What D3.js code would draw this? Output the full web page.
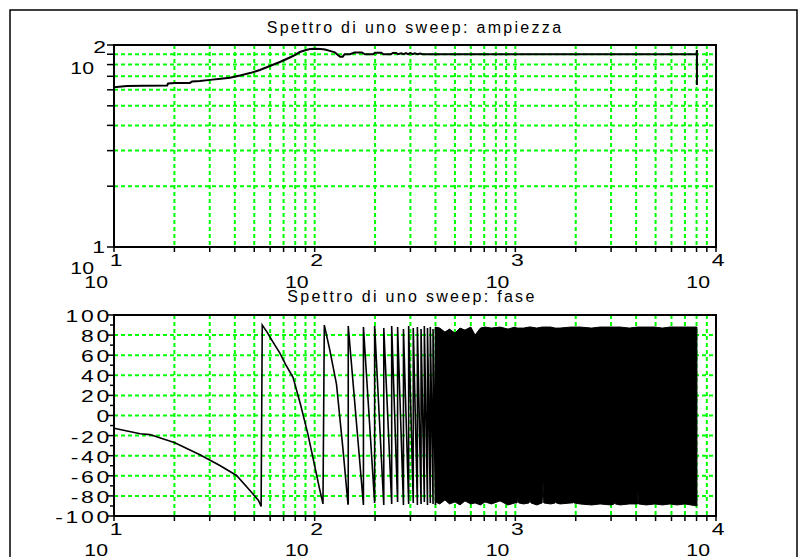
<!DOCTYPE html>
<html>
<head>
<meta charset="utf-8">
<script src="https://cdn.jsdelivr.net/npm/d3@7"></script>
<style>
body { margin: 0; background: #fff; }
text { font-family: "Liberation Sans", Arial, sans-serif; fill: #000; }
</style>
</head>
<body>
<div id="chart"></div>
<script>
// ---- data ----
// top panel: amplitude of the sweep spectrum (log-log)
var ampFreq = [10, 11.6, 14, 18.4, 18.6, 20.1, 23.9, 24.5, 26.8, 30.1, 34, 37.8, 42, 47.6, 53.3, 59.8, 67.1, 72, 78,
               84.4, 90.6, 95, 100.5, 107, 112.6, 119, 126, 131, 134, 138, 141, 150, 158, 172, 178, 195, 200, 215,
               220, 240, 245, 255, 260, 270, 278, 285, 292, 300, 308, 316, 325, 335, 345, 400, 8010, 8035, 8035];
var ampVal  = [61.7, 62.7, 62.8, 63.0, 64.5, 64.9, 64.9, 66, 66.4, 67.2, 68, 68.9, 70.5, 72.6, 75.2, 78.7, 82.4, 85, 88.2,
               92.3, 94.4, 95.5, 95.8, 95.6, 95, 93.5, 92, 89, 87.5, 87.5, 90, 90, 91.8, 91.8, 90, 90, 91.5, 91.5,
               90, 90, 91.3, 91.3, 90, 91, 90, 91.2, 90, 91.2, 90, 91, 90, 90.8, 90, 90, 90, 94.5, 63.4];

// bottom panel: phase, smooth start and first two teeth
var phaseFreq = [10, 13.5, 15.1, 20.1, 26.8, 33.7, 40.8, 47.6, 52.5, 54.1, 54.8,
                 57.9, 62, 67.1, 72, 78, 85, 92.4, 100, 105, 110, 111.7,
                 119, 128.5, 138.6, 146.5];
var phaseVal  = [-12.6, -18.2, -19, -27.2, -39, -49.8, -59.7, -74.6, -84.6, -90.5, 90,
                 83, 73, 62, 50, 38, 11, -18, -50, -70, -88, 90,
                 65, 31, -35, -88];
// later teeth: frequency of each wrap, with the top and bottom reached
var wrapFreq   = [147, 175, 199, 221, 242, 259, 277, 294, 310, 325, 339, 352, 365, 377, 389, 400];
var wrapTop    = [89, 88, 89, 87, 89, 88, 86, 89, 87, 88, 86, 89, 87, 88, 86, 88];
var wrapBottom = [-88, -89, -87, -89, -88, -86, -89, -88, -87, -89, -88, -86, -89, -87, -88, -89];
// dense part: envelope of the oscillation
var bandFreq   = [400, 420, 446, 470, 500, 530, 561, 600, 630, 670, 706, 760, 839, 920, 996, 1020, 1030, 1040, 1100,
                  1170, 1183, 1196, 1280, 1360, 1373, 1386, 1500, 1580, 1590, 1600, 1670, 1900, 1940, 1950, 1960,
                  2100, 2400, 2644, 3000, 3110, 3130, 3150, 3324, 3700, 4060, 4085, 4110, 4500, 4966, 5400, 5900,
                  6400, 7000, 7500, 8035];
var bandTop    = [88, 87, 83, 86, 82, 87, 85, 88, 80, 87, 88, 87, 88, 86, 88, 87, 87, 87, 87,
                  88, 88, 88, 87, 88, 88, 88, 88, 87, 87, 87, 87, 88, 88, 88, 88,
                  88, 87, 88, 88, 88, 88, 88, 88, 87, 88, 88, 88, 88, 88, 87, 88,
                  88, 88, 88, 88];
var bandBottom = [-86, -88, -84, -88, -86, -89, -85, -88, -87, -89, -86, -88, -85, -89, -87, -87, -82, -87, -88,
                  -87, -83, -87, -89, -87, -65, -87, -88, -87, -84, -87, -88, -87, -87, -85, -87,
                  -88, -89, -88, -89, -88, -84, -88, -89, -88, -88, -76, -88, -89, -88, -89, -88,
                  -89, -88, -89, -90];

var xDecades = [1, 2, 3, 4];
var phaseTicks = [-100, -80, -60, -40, -20, 0, 20, 40, 60, 80, 100];

// ---- layout ----
var W = 807, H = 557;
var left = 114, right = 716;
var topPanel = {y0: 45, y1: 247};
var botPanel = {y0: 315, y1: 516};

var svg = d3.select("#chart").append("svg")
    .attr("width", W)
    .attr("height", H);

// outer frame
svg.append("rect")
    .attr("x", 10).attr("y", 10)
    .attr("width", 787).attr("height", 560)
    .attr("fill", "none").attr("stroke", "#000").attr("stroke-width", 1.5);

var x = d3.scaleLog().domain([10, 10000]).range([left, right]);
var yAmp = d3.scaleLog().domain([10, 100]).range([topPanel.y1, topPanel.y0]);
var yPh = d3.scaleLinear().domain([-100, 100]).range([botPanel.y1, botPanel.y0]);

// minor log positions 2..9 in each decade, plus the decades
var xMinor = [];
[10, 100, 1000].forEach(function(d) {
  for (var k = 2; k <= 9; k++) xMinor.push(k * d);
});
var xAll = xMinor.concat([10, 100, 1000, 10000]);
var yAmpTicks = [];
for (var k = 1; k <= 10; k++) yAmpTicks.push(k * 10);

var green = "#00ff00";
var dash = "4,3";

// stretched tick label, as the original renderer draws them
function label(g, txt, px, py, anchor, spacing, sx) {
  g.append("text")
    .attr("transform", "translate(" + px + "," + py + ") scale(" + (sx || 1.35) + ",1)")
    .attr("text-anchor", anchor)
    .attr("dy", "0.35em")
    .style("font-size", "17px")
    .style("letter-spacing", spacing + "px")
    .text(txt);
}

function drawXAxis(g, y0, y1, yExp, yBase) {
  // vertical grid
  g.selectAll(".vgrid").data(xMinor.concat([100, 1000])).enter().append("line")
    .attr("x1", function(d) { return x(d); }).attr("x2", function(d) { return x(d); })
    .attr("y1", y0).attr("y2", y1)
    .attr("stroke", green).attr("stroke-width", 2).attr("stroke-dasharray", dash);
  // ticks
  g.selectAll(".xtick").data(xAll).enter().append("line")
    .attr("x1", function(d) { return x(d); }).attr("x2", function(d) { return x(d); })
    .attr("y1", y1).attr("y2", y1 + 5)
    .attr("stroke", "#000").attr("stroke-width", 1.5);
  // labels 10^n
  xDecades.forEach(function(e) {
    var px = x(Math.pow(10, e));
    label(g, String(e), px + 2, yExp, "middle", 0);
    label(g, "10", px - 6, yBase, "end", 0, 1.25);
  });
}

function frame(g, y0, y1) {
  g.append("rect")
    .attr("x", left).attr("y", y0)
    .attr("width", right - left).attr("height", y1 - y0)
    .attr("fill", "none").attr("stroke", "#000").attr("stroke-width", 2);
}

// ---- top panel: amplitude ----
var gA = svg.append("g");
gA.append("text")
    .attr("x", (left + right) / 2).attr("y", 33)
    .attr("text-anchor", "middle")
    .style("font-size", "16px").style("letter-spacing", "2.3px")
    .text("Spettro di uno sweep: ampiezza");

gA.selectAll(".hgrid").data(yAmpTicks.slice(1, 9)).enter().append("line")
    .attr("x1", left).attr("x2", right)
    .attr("y1", function(d) { return yAmp(d); }).attr("y2", function(d) { return yAmp(d); })
    .attr("stroke", green).attr("stroke-width", 2).attr("stroke-dasharray", dash);
drawXAxis(gA, topPanel.y0, topPanel.y1, 260, 282);

gA.selectAll(".ytick").data(yAmpTicks).enter().append("line")
    .attr("x1", left - 7).attr("x2", left)
    .attr("y1", function(d) { return yAmp(d); }).attr("y2", function(d) { return yAmp(d); })
    .attr("stroke", "#000").attr("stroke-width", 1.5);
label(gA, "2", 106, yAmp(100) + 2, "end", 0);
label(gA, "10", 94, yAmp(100) + 23, "end", 0, 1.25);
label(gA, "1", 105, yAmp(10), "end", 0);
label(gA, "10", 94, yAmp(10) + 21, "end", 0, 1.25);

var ampLine = d3.line()
    .x(function(d) { return x(d[0]); })
    .y(function(d) { return yAmp(d[1]); });
gA.append("path")
    .datum(d3.zip(ampFreq, ampVal))
    .attr("d", ampLine)
    .attr("fill", "none").attr("stroke", "#000").attr("stroke-width", 2);
frame(gA, topPanel.y0, topPanel.y1);

// ---- bottom panel: phase ----
var gP = svg.append("g");
gP.append("text")
    .attr("x", (left + right) / 2 - 3).attr("y", 302)
    .attr("text-anchor", "middle")
    .style("font-size", "16px").style("letter-spacing", "2.3px")
    .text("Spettro di uno sweep: fase");

gP.selectAll(".hgrid").data(phaseTicks.slice(1, -1)).enter().append("line")
    .attr("x1", left).attr("x2", right)
    .attr("y1", function(d) { return yPh(d); }).attr("y2", function(d) { return yPh(d); })
    .attr("stroke", green).attr("stroke-width", 2).attr("stroke-dasharray", dash);
drawXAxis(gP, botPanel.y0, botPanel.y1, 529, 550);

var phMinor = d3.range(-100, 101, 10);
gP.selectAll(".ytick").data(phMinor).enter().append("line")
    .attr("x1", function(d) { return d % 20 === 0 ? left - 7 : left - 4; }).attr("x2", left)
    .attr("y1", function(d) { return yPh(d); }).attr("y2", function(d) { return yPh(d); })
    .attr("stroke", "#000").attr("stroke-width", 1.5);
phaseTicks.forEach(function(t) {
  label(gP, String(t), 112, yPh(t) + 1, "end", 2);
});

var phLine = d3.line()
    .x(function(d) { return x(d[0]); })
    .y(function(d) { return yPh(d[1]); });

// smooth start + first teeth
var phasePts = d3.zip(phaseFreq, phaseVal);
// later teeth from the wrap list
wrapFreq.forEach(function(f, i) {
  phasePts.push([f, wrapBottom[i]]);
  phasePts.push([f, wrapTop[i]]);
});
gP.append("path")
    .datum(phasePts)
    .attr("d", phLine)
    .attr("fill", "none").attr("stroke", "#000").attr("stroke-width", 1.6);

// dense oscillation drawn as a filled band
var band = d3.area()
    .x(function(d) { return x(d[0]); })
    .y0(function(d) { return yPh(d[2]); })
    .y1(function(d) { return yPh(d[1]); });
gP.append("path")
    .datum(d3.zip(bandFreq, bandTop, bandBottom))
    .attr("d", band)
    .attr("fill", "#000").attr("stroke", "#000").attr("stroke-width", 1);
frame(gP, botPanel.y0, botPanel.y1);
</script>
</body>
</html>
